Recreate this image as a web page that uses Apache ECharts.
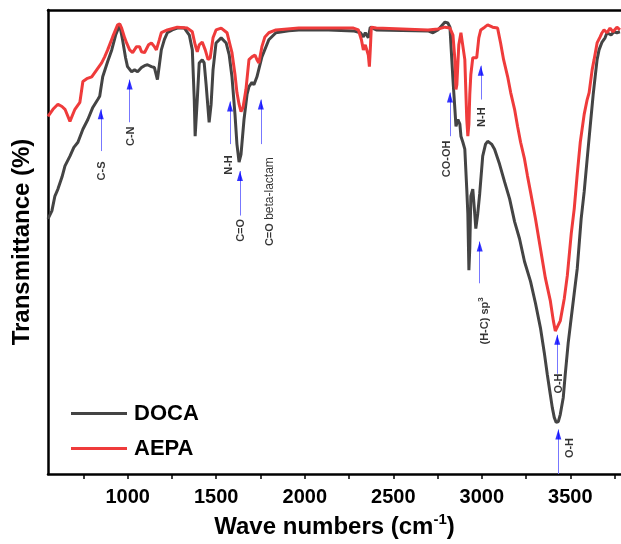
<!DOCTYPE html>
<html><head><meta charset="utf-8">
<script src="https://cdn.jsdelivr.net/npm/echarts@6/dist/echarts.min.js"></script>
<style>html,body{margin:0;padding:0;background:#fff}#c{width:621px;height:544px}</style>
</head><body><div id="c"></div>
<script>
const docaWn = [550,572,589,606,629,646,674,696,719,747,775,803,831,842,848,859,887,910,932,955,971,988,999,1022,1039,1056,1078,1095,1112,1134,1151,1168,1179,1190,1207,1224,1252,1280,1320,1348,1365,1376,1381,1393,1404,1421,1432,1443,1460,1471,1482,1499,1528,1556,1573,1589,1606,1617,1629,1640,1657,1674,1685,1702,1713,1730,1758,1797,1837,1910,1966,2135,2275,2314,2331,2342,2359,2370,2404,2696,2724,2752,2792,2808,2820,2825,2837,2848,2854,2865,2876,2882,2893,2904,2915,2921,2927,2932,2938,2949,2960,2966,2977,2988,3005,3021,3033,3055,3072,3100,3129,3157,3185,3213,3241,3275,3303,3331,3353,3370,3387,3398,3409,3420,3432,3443,3460,3471,3488,3500,3522,3539,3561,3578,3595,3612,3629,3640,3651,3662,3679,3696,3707,3730,3746,3763,3780];
const docaT = [55.0,56.7,59.9,61.4,64.0,66.4,68.5,70.4,71.5,74.3,76.4,79.0,80.7,81.4,82.9,85.6,88.9,91.4,94.6,96.8,93.6,89.7,87.8,86.7,87.1,86.7,87.6,88.0,88.2,87.8,87.6,85.0,88.2,91.4,93.6,95.1,95.7,96.1,96.1,94.6,91.4,80.7,72.8,80.7,88.6,89.3,88.6,83.9,75.8,79.6,87.1,92.9,94.0,92.9,90.4,85.6,77.5,71.1,67.2,68.9,76.4,81.8,83.5,84.4,83.9,85.6,89.9,93.6,95.1,95.5,95.7,95.7,95.5,95.1,94.2,95.1,94.0,96.3,95.7,95.5,95.1,95.7,97.4,97.2,96.3,92.9,85.0,78.6,74.9,76.4,75.4,72.8,71.5,70.0,61.4,56.1,43.9,48.6,59.9,61.4,56.1,52.9,56.1,60.4,68.5,71.1,71.7,71.1,70.0,66.8,62.9,59.3,54.4,50.7,45.8,41.5,36.8,31.5,26.1,21.4,17.1,14.3,12.2,11.1,11.3,12.8,16.5,21.4,28.3,32.1,39.0,44.3,55.0,60.8,67.9,74.9,81.8,85.6,89.3,91.4,93.1,94.0,95.1,94.6,95.3,95.1,95.3];
const aepaWn = [550,578,606,629,646,674,702,730,747,769,797,825,853,870,887,915,943,955,966,983,994,1011,1028,1050,1067,1078,1095,1118,1134,1151,1162,1179,1190,1224,1280,1337,1365,1381,1393,1404,1421,1438,1454,1466,1482,1499,1528,1561,1578,1589,1606,1617,1629,1640,1651,1668,1685,1702,1719,1730,1741,1758,1775,1797,1837,1966,2275,2303,2320,2331,2342,2348,2359,2365,2370,2376,2404,2696,2752,2792,2820,2837,2848,2854,2859,2870,2882,2893,2904,2910,2915,2921,2927,2932,2938,2949,2960,2971,2983,2994,3016,3033,3061,3089,3106,3123,3146,3163,3185,3202,3219,3241,3258,3275,3303,3331,3359,3387,3404,3415,3426,3443,3466,3483,3505,3522,3539,3556,3578,3595,3606,3623,3634,3651,3668,3679,3690,3707,3724,3741,3763,3780];
const aepaT = [77.1,78.6,79.7,79.2,78.6,76.0,78.6,80.1,84.6,85.2,85.6,87.1,88.6,89.9,91.4,94.2,96.8,97.0,96.1,94.0,92.9,91.4,90.8,92.1,92.1,91.0,90.8,92.5,92.9,92.1,91.4,93.6,95.1,95.7,96.3,96.1,95.3,92.5,91.0,92.5,93.1,91.4,89.3,89.7,94.0,95.7,96.1,95.1,92.5,90.8,86.1,82.2,79.7,78.1,78.9,82.9,89.3,89.9,90.3,89.3,88.6,92.1,94.2,95.1,95.7,96.1,96.1,95.7,93.6,91.4,92.5,92.9,90.3,87.8,91.4,96.3,96.1,95.7,95.9,96.3,96.1,94.6,89.3,82.9,83.9,92.5,95.1,95.3,89.3,82.2,76.4,72.8,75.4,81.8,86.1,89.7,89.3,89.7,94.0,95.7,96.3,96.8,96.3,96.1,92.9,89.3,85.6,82.2,78.6,74.9,71.5,67.9,64.2,60.8,55.0,48.6,42.2,37.3,33.0,30.8,31.0,33.0,37.9,42.8,51.8,57.2,64.7,71.5,77.5,80.7,82.2,87.1,89.3,92.9,94.2,95.1,95.7,95.1,96.1,95.3,96.3,95.7];

const tickValues = [750,1000,1250,1500,1750,2000,2250,2500,2750,3000,3250,3500,3750];
const labelValues = [1000,1500,2000,2500,3000,3500];

const annText = ['{b|C-S}','{b|C-N}','{b|N-H}','{b|C=O}','{b|C=O} {n|beta-lactam}','{b|CO-OH}','{b|N-H}','{b|(H-C) sp}{s|3}','{b|O-H}','{b|O-H}'];
const annWn = [848,1011,1578,1634,1752,2820,2994,2988,3426,3432];
const annTip = [78.6,85.0,80.3,65.3,80.7,82.2,88.0,50.1,30.0,9.6];
const annBase = [69.6,75.8,71.1,55.7,71.1,72.8,80.7,41.1,21.6,0];
const annLabelWn = [848,1011,1561,1634,1797,2792,2994,3011,3426,3488];
const annLabelT = [65.3,72.8,66.6,52.5,58.7,67.9,76.9,33.0,19.5,5.6];

const FF = '"Liberation Sans", Arial, sans-serif';
const chart = echarts.init(document.getElementById('c'), null, {renderer:'canvas'});
const xMin = 550, xMax = 3786;
chart.setOption({
  animation: false,
  backgroundColor: '#fff',
  textStyle: {fontFamily: FF},
  grid: {left: 48, top: 10, right: -3, bottom: 67, containLabel: false},
  legend: {
    data: ['DOCA','AEPA'], orient: 'vertical', left: 66, top: 396,
    itemWidth: 56, itemHeight: 3, itemGap: 10, icon: 'rect',
    textStyle: {fontSize: 22, fontWeight: 'bold', color: '#000', fontFamily: FF, lineHeight: 25, padding: [0,0,0,2]}
  },
  xAxis: [{
    type: 'value', min: xMin, max: xMax, position: 'bottom',
    axisLine: {show: true, onZero: false, lineStyle: {color: '#000', width: 2.5}},
    axisTick: {show: true, customValues: tickValues, length: 5, inside: false, lineStyle: {color: '#000', width: 1.5}},
    axisLabel: {customValues: labelValues, formatter: v => String(v), fontSize: 20, fontWeight: 'bold', color: '#000', margin: 13, fontFamily: FF},
    splitLine: {show: false},
    name: '{a|Wave numbers (cm}{s|-1}{a|)}', nameLocation: 'middle', nameGap: 38,
    nameTextStyle: {rich: {
      a: {fontSize: 24, fontWeight: 'bold', color: '#000', fontFamily: FF, lineHeight: 27, verticalAlign: 'bottom'},
      s: {fontSize: 15, fontWeight: 'bold', color: '#000', fontFamily: FF, lineHeight: 27, verticalAlign: 'top'}
    }}
  }, {
    type: 'value', min: xMin, max: xMax, position: 'top',
    axisLine: {show: true, onZero: false, lineStyle: {color: '#000', width: 2.5}},
    axisTick: {show: false}, axisLabel: {show: false}, splitLine: {show: false}
  }],
  yAxis: {
    type: 'value', min: 0, max: 100,
    axisLine: {show: true, onZero: false, lineStyle: {color: '#000', width: 2.5}},
    axisTick: {show: false}, axisLabel: {show: false}, splitLine: {show: false},
    name: 'Transmittance (%)', nameLocation: 'middle', nameGap: 14,
    nameTextStyle: {fontSize: 24, fontWeight: 'bold', color: '#000', fontFamily: FF}
  },
  series: [
    {name: 'DOCA', type: 'line', data: docaWn.map((w,i)=>[w, docaT[i]]), showSymbol: false, symbol: 'none',
     lineStyle: {color: '#444444', width: 3}, itemStyle: {color: '#444444'}, z: 3},
    {name: 'AEPA', type: 'line', data: aepaWn.map((w,i)=>[w, aepaT[i]]), showSymbol: false, symbol: 'none',
     lineStyle: {color: '#ef3b3b', width: 3}, itemStyle: {color: '#ef3b3b'}, z: 4},
    {name: 'arrows', type: 'scatter', data: annWn.map((w,i)=>[w, annTip[i]]), symbol: 'triangle',
     symbolSize: [6,10], symbolOffset: [0,'50%'], itemStyle: {color: '#0000ff'}, silent: true, z: 6,
     markLine: {silent: true, symbol: ['none','none'], label: {show: false}, animation: false,
       lineStyle: {color: '#7777ff', width: 1, type: 'solid'},
       emphasis: {disabled: true},
       data: annWn.map((w,i)=>[{coord: [w, annBase[i]]}, {coord: [w, annTip[i]]}])}},
    {name: 'labels', type: 'scatter', data: annLabelWn.map((w,i)=>[w, annLabelT[i]]), symbolSize: 0, silent: true, z: 7,
     label: {show: true, position: 'inside', rotate: 90, align: 'center', verticalAlign: 'middle',
       formatter: p => annText[p.dataIndex],
       rich: {
         b: {fontSize: 11, fontWeight: 'bold', color: '#000', fontFamily: FF, lineHeight: 14, verticalAlign: 'bottom'},
         n: {fontSize: 12, fontWeight: 'normal', color: '#000', fontFamily: FF, lineHeight: 14, verticalAlign: 'bottom'},
         s: {fontSize: 8, fontWeight: 'bold', color: '#000', fontFamily: FF, lineHeight: 14, verticalAlign: 'top'}
       }}}
  ]
});
</script>
</body></html>
